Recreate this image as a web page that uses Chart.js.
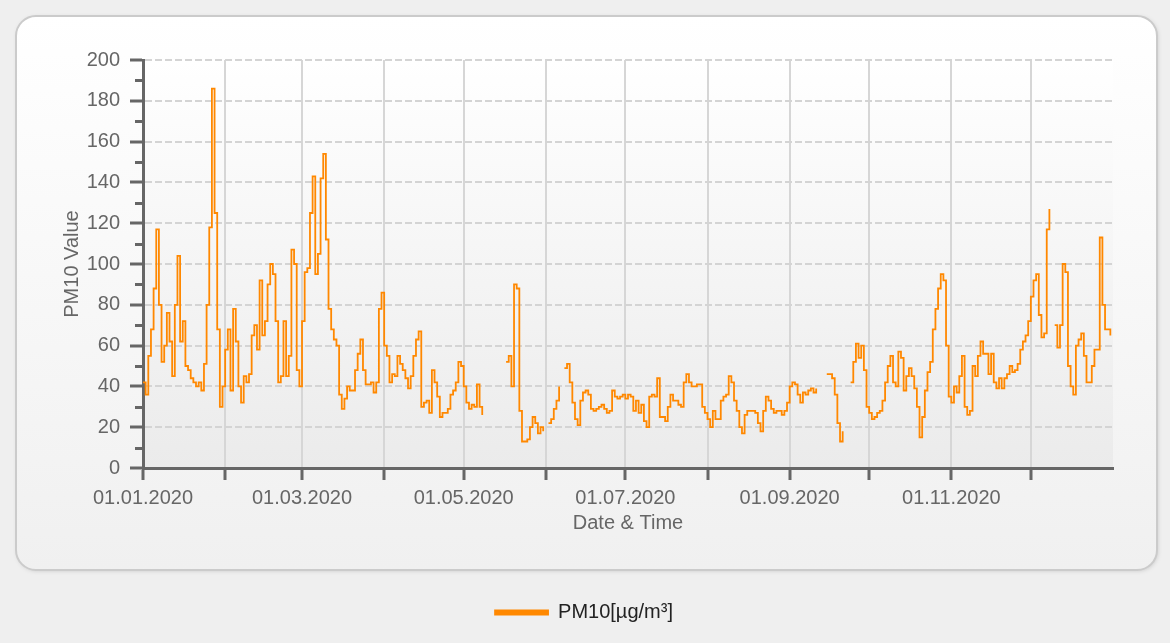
<!DOCTYPE html>
<html>
<head>
<meta charset="utf-8">
<title>PM10</title>
<script src="https://cdn.jsdelivr.net/npm/chart.js@4.4.1/dist/chart.umd.min.js"></script>
<style>
  html, body { margin: 0; padding: 0; background: #efefef; }
  canvas { display: block; }
</style>
</head>
<body>
<canvas id="chart" width="1170" height="643"></canvas>
<script>
// day index 0 = 01.01.2020, one value per day (null = no data)
const monthStarts = [0, 31, 60, 91, 121, 152, 182, 213, 244, 274, 305, 335];
const monthLabels = ['01.01.2020', '01.02.2020', '01.03.2020', '01.04.2020', '01.05.2020', '01.06.2020',
                     '01.07.2020', '01.08.2020', '01.09.2020', '01.10.2020', '01.11.2020', '01.12.2020'];
const daysInYear = 366;

const jan = [42, 36, 55, 68, 88, 117, 80, 52, 60, 76, 62, 45, 80, 104, 62, 72, 50, 48, 44, 42, 40, 42, 38, 51, 80, 118, 186, 125, 68, 30, 40];
const feb = [58, 68, 38, 78, 62, 40, 32, 45, 42, 46, 65, 70, 58, 92, 65, 72, 90, 100, 95, 72, 42, 45, 72, 45, 55, 107, 100, 48, 40];
const mar = [72, 96, 98, 125, 143, 95, 105, 142, 154, 112, 78, 68, 63, 60, 36, 29, 34, 40, 38, 38, 48, 56, 63, 48, 41, 41, 42, 37, 42, 78, 86];
const apr = [60, 55, 42, 46, 45, 55, 51, 48, 44, 39, 45, 55, 63, 67, 30, 32, 33, 27, 48, 42, 35, 25, 27, 27, 29, 36, 38, 42, 52, 50];
const may = [40, 32, 29, 31, 30, 41, 30, 26, null, null, null, null, null, null, null, null, 52, 55, 40, 90, 88, 28, 13, 13, 14, 20, 25, 22, 17, 20, 18];
const jun = [null, 22, 24, 29, 33, 40, null, 49, 51, 42, 32, 24, 21, 33, 37, 38, 36, 29, 28, 29, 30, 31, 29, 27, 28, 38, 35, 34, 35, 36];
const jul = [34, 36, 35, 28, 33, 27, 31, 23, 20, 35, 36, 35, 44, 25, 25, 23, 30, 36, 33, 33, 31, 30, 42, 46, 42, 40, 40, 41, 41, 30, 27];
const aug = [24, 20, 28, 24, 24, 33, 35, 36, 45, 42, 33, 28, 20, 17, 26, 28, 28, 28, 27, 22, 18, 28, 35, 33, 29, 27, 28, 28, 26, 28, 32];
const sep = [40, 42, 41, 36, 32, 37, 36, 38, 39, 37, 39, null, null, null, 46, 46, 44, 36, 22, 13, 18, null, null, 42, 52, 61, 54, 60, 48, 30];
const oct = [27, 24, 25, 27, 28, 33, 42, 50, 55, 42, 40, 57, 54, 38, 45, 49, 45, 39, 30, 15, 25, 38, 47, 52, 68, 78, 88, 95, 92, 60, 35];
const nov = [32, 40, 37, 45, 55, 30, 26, 28, 50, 45, 55, 62, 56, 56, 46, 56, 42, 39, 44, 39, 44, 46, 50, 47, 48, 51, 58, 62, 65, 72];
const dec = [84, 92, 95, 75, 64, 66, 117, 127, null, 70, 59, 70, 100, 96, 50, 40, 36, 60, 63, 66, 55, 42, 42, 50, 58, 58, 113, 80, 68, 68, 65];

const pm10 = [].concat(jan, feb, mar, apr, may, jun, jul, aug, sep, oct, nov, dec);
const points = pm10.map((v, i) => ({x: i, y: v}));

const panelBg = {
  id: 'panelBg',
  beforeDraw(chart) {
    const ctx = chart.ctx;
    const a = chart.chartArea;
    ctx.save();
    ctx.fillStyle = '#efefef';
    ctx.fillRect(0, 0, chart.width, chart.height);
    ctx.beginPath();
    ctx.roundRect(16, 16, 1141, 554, 20);
    let g = ctx.createLinearGradient(0, 16, 0, 570);
    g.addColorStop(0, '#ffffff');
    g.addColorStop(1, '#f0f0f0');
    ctx.shadowColor = 'rgba(0,0,0,0.15)';
    ctx.shadowBlur = 4;
    ctx.shadowOffsetX = 1;
    ctx.shadowOffsetY = 1;
    ctx.fillStyle = g;
    ctx.fill();
    ctx.shadowColor = 'transparent';
    ctx.lineWidth = 2;
    ctx.strokeStyle = '#cbcbcb';
    ctx.stroke();
    g = ctx.createLinearGradient(0, a.top, 0, a.bottom);
    g.addColorStop(0, '#ffffff');
    g.addColorStop(1, '#ebebeb');
    ctx.fillStyle = g;
    ctx.fillRect(a.left, a.top, a.right - a.left, a.bottom - a.top);
    ctx.restore();
  }
};

// short ticks between the labelled ones on the value axis
const minorTicks = {
  id: 'minorTicks',
  afterDraw(chart) {
    const y = chart.scales.y;
    const ctx = chart.ctx;
    ctx.save();
    ctx.strokeStyle = '#666';
    ctx.lineWidth = 3;
    ctx.beginPath();
    for (let v = 10; v < 200; v += 20) {
      const py = Math.round(y.getPixelForValue(v)) + 0.5;
      ctx.moveTo(y.right - 8, py);
      ctx.lineTo(y.right, py);
    }
    ctx.stroke();
    ctx.restore();
  }
};

Chart.defaults.font.family = '"Liberation Sans", Arial, sans-serif';
Chart.defaults.font.size = 20;
Chart.defaults.color = '#666';

new Chart(document.getElementById('chart'), {
  type: 'line',
  data: {
    datasets: [{
      label: 'PM10[µg/m³]',
      data: points,
      borderColor: '#ff8800',
      backgroundColor: '#ff8800',
      borderWidth: 1.8,
      pointRadius: 0,
      stepped: true,
      spanGaps: false,
      fill: false
    }]
  },
  options: {
    responsive: false,
    animation: false,
    layout: { padding: { left: 55, right: 57, top: 60, bottom: 10.5 } },
    plugins: {
      legend: {
        position: 'bottom',
        labels: { boxWidth: 53, boxHeight: 4, padding: 10, color: '#222' }
      },
      tooltip: { enabled: false }
    },
    scales: {
      x: {
        type: 'linear',
        min: 0,
        max: daysInYear,
        afterBuildTicks: s => { s.ticks = monthStarts.map(v => ({value: v})); },
        afterFit: s => { s.height = 124.5; },
        ticks: {
          autoSkip: false,
          maxRotation: 0,
          padding: 6,
          callback: (v, i) => (i % 2 === 0 ? monthLabels[i] : '')
        },
        grid: { color: '#d6d6d6', lineWidth: 2, tickColor: '#666', tickLength: 12, tickWidth: 3 },
        border: { color: '#666', width: 3 },
        title: { display: true, text: 'Date & Time', padding: { top: 4, bottom: 57.5 } }
      },
      y: {
        min: 0,
        max: 200,
        afterFit: s => { s.width = 88; },
        ticks: { stepSize: 20, padding: 10 },
        grid: { color: '#d4d4d4', lineWidth: 2, tickColor: '#666', tickLength: 13, tickWidth: 3 },
        border: { color: '#666', width: 3, dash: [7, 3] },
        title: { display: true, text: 'PM10 Value', padding: { top: 5, bottom: 4 } }
      }
    }
  },
  plugins: [panelBg, minorTicks]
});
</script>
</body>
</html>
